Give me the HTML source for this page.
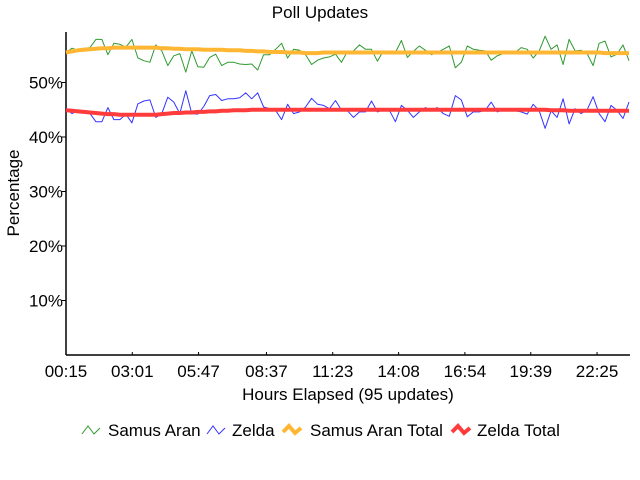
<!DOCTYPE html>
<html><head><meta charset="utf-8"><style>
html,body{margin:0;padding:0;background:#fff;}
svg{display:block;font-family:"Liberation Sans Narrow","Liberation Sans",sans-serif;}
</style></head><body>
<svg id="chart" width="640" height="480" viewBox="0 0 640 480" xmlns="http://www.w3.org/2000/svg">
<rect width="640" height="480" fill="#fff"/>
<text x="320" y="18" font-size="17" text-anchor="middle">Poll Updates</text>
<text transform="translate(19,193) rotate(-90)" font-size="17" text-anchor="middle">Percentage</text>
<text x="348" y="400" font-size="17" text-anchor="middle">Hours Elapsed (95 updates)</text>
<g id="grid"></g>
<g id="series"></g>
<g id="legend">
  <g><polyline points="82,434 88,426 94,434 100,428" fill="none" stroke="#2e9a2e" stroke-width="1"/><text x="108" y="436" font-size="17">Samus Aran</text></g>
  <g><polyline points="207,434 213,426 219,434 225,428" fill="none" stroke="#3333ff" stroke-width="1"/><text x="232" y="436" font-size="17">Zelda</text></g>
  <g><polyline points="283,432 289,426 295,433 301,428" fill="none" stroke="#ffb733" stroke-width="4"/><text x="310" y="436" font-size="17">Samus Aran Total</text></g>
  <g><polyline points="452,432 458,426 464,433 470,428" fill="none" stroke="#ff3b3b" stroke-width="4"/><text x="477" y="436" font-size="17">Zelda Total</text></g>
</g>
</svg>
<script>
const samusAran = [55.5,56.3,55.9,56.3,56.4,57.9,57.9,55.1,57.2,57.0,56.5,57.9,54.5,54.0,53.7,56.9,55.8,53.1,54.9,55.3,51.9,55.8,52.9,52.8,54.6,55.2,53.1,53.7,53.7,53.4,53.3,
53.4,52.3,
55.1,55.1,56.1,57.2,54.5,56.1,55.9,55.1,53.3,54.1,54.5,54.7,55.2,53.7,55.7,55.8,56.9,56.1,56.1,53.9,55.8,55.5,55.5,57.7,54.6,55.7,56.7,55.9,55.1,55.5,56.1,
56.7,52.7,53.7,56.7,56.1,55.9,55.8,54.1,54.9,55.3,55.3,55.5,56.4,56.1,54.5,55.8,58.5,56.1,56.9,53.3,57.9,55.8,55.9,55.3,53.1,57.2,57.6,54.7,55.2,56.9,54.0];
const zelda = [45.2,44.3,44.8,44.6,44.3,42.8,42.8,45.4,43.2,43.2,44.2,42.6,46.1,46.6,46.8,43.6,44.3,47.3,46.4,44.3,48.5,44.3,44.2,45.6,47.6,47.8,46.7,47.0,47.0,47.2,48.1,
47.0,48.1,
45.5,45.2,44.9,43.2,46.0,44.3,44.6,45.5,47.1,46.0,45.8,45.2,46.7,44.9,44.8,43.6,44.6,44.6,46.6,44.6,45.0,44.9,42.8,45.8,44.9,43.6,44.6,45.4,44.9,45.4,44.3,
43.8,47.6,46.8,43.7,44.6,44.6,44.9,46.4,44.6,45.0,45.0,44.8,44.6,44.2,46.0,44.8,41.6,44.8,43.6,47.0,42.4,45.2,44.3,45.0,47.4,44.3,42.8,45.8,44.9,43.4,46.4];
const samusAranTotal = [55.5,55.7,55.9,56.0,56.1,56.2,56.3,56.3,56.4,56.4,56.4,56.4,56.4,56.4,56.4,56.4,
56.3,56.3,56.2,56.2,56.1,56.1,56.1,56.0,56.0,56.0,56.0,55.9,55.9,55.9,55.8,
55.8,55.7,55.7,55.6,55.6,55.6,55.5,55.5,55.5,55.4,55.4,55.4,55.5,55.5,55.5,
55.5,55.5,55.5,55.5,55.5,55.5,55.5,55.5,55.5,55.5,55.5,55.5,55.5,55.5,55.5,
55.5,55.5,55.5,55.5,55.5,55.5,55.5,55.5,55.5,55.5,55.5,55.5,55.5,55.5,55.5,
55.5,55.5,55.5,55.5,55.5,55.5,55.5,55.5,55.5,55.5,55.5,55.5,55.5,55.5,55.4,55.4,55.4,55.4,55.4];
const zeldaTotal = [44.9,44.8,44.7,44.6,44.5,44.4,44.3,44.2,44.2,44.1,44.1,44.1,44.1,44.1,44.1,44.1,
44.2,44.3,44.4,44.4,44.5,44.5,44.6,44.6,44.7,44.7,44.8,44.8,44.9,44.9,44.9,
45.0,45.0,45.0,45.0,45.0,45.0,45.0,45.0,45.0,45.0,45.0,45.0,45.0,45.0,45.0,
45.0,45.0,45.0,45.0,45.0,45.0,45.0,45.0,45.0,45.0,45.0,45.0,45.0,45.0,45.0,
45.0,45.0,45.0,45.0,45.0,45.0,45.0,45.0,45.0,45.0,45.0,45.0,45.0,45.0,45.0,
45.0,45.0,45.0,45.0,45.0,44.9,44.9,44.9,44.8,44.8,44.8,44.8,44.8,44.8,44.8,44.8,44.8,44.8,44.8];
const yTicks = [10,20,30,40,50];
const xTickLabels = ["00:15","03:01","05:47","08:37","11:23","14:08","16:54","19:39","22:25"];
const xTickMinutes = [0,166,332,502,668,833,999,1164,1330];

const NS="http://www.w3.org/2000/svg";
const X0=66, X1=629, Y0=355;
const minutesPerUpdate=15;
const totalMin=94*minutesPerUpdate;
function xIdx(i){return X0+(X1-X0)*i/94;}
function xMin(m){return X0+(X1-X0)*m/totalMin;}
function y(v){return Y0-v*5.45;}
function mk(tag,attrs,parent){const e=document.createElementNS(NS,tag);for(const k in attrs)e.setAttribute(k,attrs[k]);parent.appendChild(e);return e;}
const axes=document.getElementById('grid');
const ax1=mk('line',{x1:X0,y1:32,x2:X0,y2:Y0,stroke:'#000','stroke-width':1.5},axes);


const ax2=mk('line',{x1:X0,y1:Y0,x2:X1+1,y2:Y0,stroke:'#000','stroke-width':1.5},axes);


yTicks.forEach(v=>{
  const t=mk('line',{x1:X0-4,y1:y(v),x2:X0,y2:y(v),stroke:'#000'},axes);
  
  
  const l=mk('text',{x:X0-3,y:y(v)+6,'font-size':17,'text-anchor':'end'},axes);
  l.textContent=v+'%';
  
  
});
xTickLabels.forEach((s,i)=>{
  const xx=xMin(xTickMinutes[i]);
  const t=mk('line',{x1:xx,y1:Y0-3,x2:xx,y2:Y0,stroke:'#000'},axes);
  
  
  const l=mk('text',{x:xx,y:377,'font-size':17,'text-anchor':'middle'},axes);
  l.textContent=s;
  
  
});
const sg=document.getElementById('series');
function line(arr,color,w,name){
  const p=mk('polyline',{points:arr.map((v,i)=>xIdx(i).toFixed(1)+','+y(v).toFixed(1)).join(' '),fill:'none',stroke:color,'stroke-width':w,'stroke-linejoin':'round'},sg);
  
  
}
line(samusAran,'#2e9a2e',1,'samus-aran-line');
line(zelda,'#3333ff',1,'zelda-line');
line(samusAranTotal,'#ffb733',4,'samus-aran-total-line');
line(zeldaTotal,'#ff3b3b',4,'zelda-total-line');
</script>
</body></html>
